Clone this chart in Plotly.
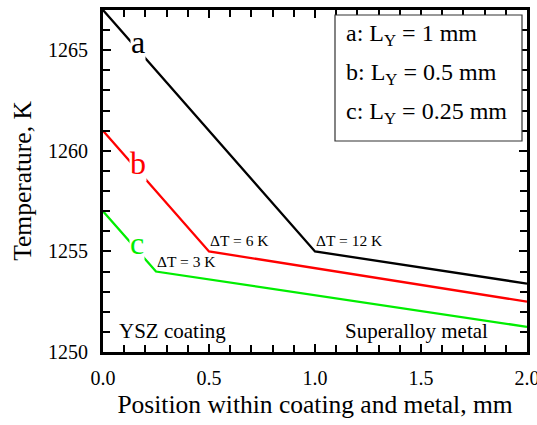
import plotly.graph_objects as go

# Temperature profiles through the YSZ coating and superalloy metal
x_a = [0.0, 1.0, 2.0]
t_a = [1267.0, 1255.0, 1253.4]
x_b = [0.0, 0.5, 2.0]
t_b = [1261.0, 1255.0, 1252.5]
x_c = [0.0, 0.25, 2.0]
t_c = [1257.0, 1254.0, 1251.25]

series = [("a", x_a, t_a, "black"), ("b", x_b, t_b, "#ff0000"), ("c", x_c, t_c, "#00ee00")]
legend_lines = ["a: L<sub>Y</sub> = 1 mm", "b: L<sub>Y</sub> = 0.5 mm", "c: L<sub>Y</sub> = 0.25 mm"]
drops = [("ΔT = 12 K", 1.0, 1255.0), ("ΔT = 6 K", 0.5, 1255.0), ("ΔT = 3 K", 0.25, 1254.0)]

FONT = "Liberation Serif"
fig = go.Figure()
for name, xs, ys, col in series:
    fig.add_trace(go.Scatter(x=xs, y=ys, mode="lines", name=name,
                             line=dict(color=col, width=2.3), showlegend=False))

# curve letters, with a white backing that breaks the line
letter_pos = {"a": (0.165, 1265.4), "b": (0.165, 1259.4), "c": (0.16, 1255.4)}
for name, xs, ys, col in series:
    lx, ly = letter_pos[name]
    fig.add_annotation(x=lx, y=ly, text=name, showarrow=False, bgcolor="white",
                       font=dict(family=FONT, size=32, color=col), borderpad=0)

for txt, xv, yv in drops:
    fig.add_annotation(x=xv, y=yv, text=txt, showarrow=False, xanchor="left", yanchor="bottom",
                       xshift=-1, yshift=0, font=dict(family=FONT, size=15.5, color="black"))

fig.add_annotation(x=0.066, y=1250.35, text="YSZ coating", showarrow=False, xanchor="left",
                   yanchor="bottom", font=dict(family=FONT, size=21, color="black"))
fig.add_annotation(x=1.825, y=1250.35, text="Superalloy metal", showarrow=False, xanchor="right",
                   yanchor="bottom", font=dict(family=FONT, size=21, color="black"))

# inset key: framed box with one line of text per curve
fig.add_shape(type="rect", xref="paper", yref="paper",
              x0=(335 - 103) / 424, x1=(522 - 103) / 424,
              y0=(352 - 141) / 342, y1=(352 - 15) / 342,
              line=dict(color="#333", width=1.2), fillcolor="white", layer="above")
for i, txt in enumerate(legend_lines):
    ypix = 35 + 39 * i
    fig.add_annotation(x=(344 - 103) / 424, y=(352 - ypix) / 342, xref="paper", yref="paper",
                       xanchor="left", yanchor="middle", text=txt, showarrow=False,
                       font=dict(family=FONT, size=24, color="black"))

axis_common = dict(showline=True, linecolor="black", linewidth=2.8, mirror="ticks",
                   ticks="inside", ticklen=8, tickwidth=1.6, tickcolor="black",
                   showgrid=False, zeroline=False, automargin=False,
                   ticklabeloverflow="allow",
                   tickfont=dict(family=FONT, size=20, color="black"),
                   minor=dict(ticks="inside", ticklen=7, tickwidth=1.6, tickcolor="black"))

fig.update_xaxes(range=[0, 2], dtick=0.5, tickformat=".1f", ticklabelstandoff=6,
                 title=dict(text="Position within coating and metal, mm",
                            font=dict(family=FONT, size=25.5, color="black"), standoff=8),
                 **axis_common)
fig.update_yaxes(range=[1250, 1267], tick0=1250, dtick=5, ticklabelstandoff=8,
                 title=dict(text="Temperature, K",
                            font=dict(family=FONT, size=25.5, color="black"), standoff=10),
                 **axis_common)

fig.update_layout(width=537, height=425,
                  margin=dict(l=103, r=10, t=10, b=73, autoexpand=False),
                  plot_bgcolor="white", paper_bgcolor="white")
fig.write_html("out.html")
